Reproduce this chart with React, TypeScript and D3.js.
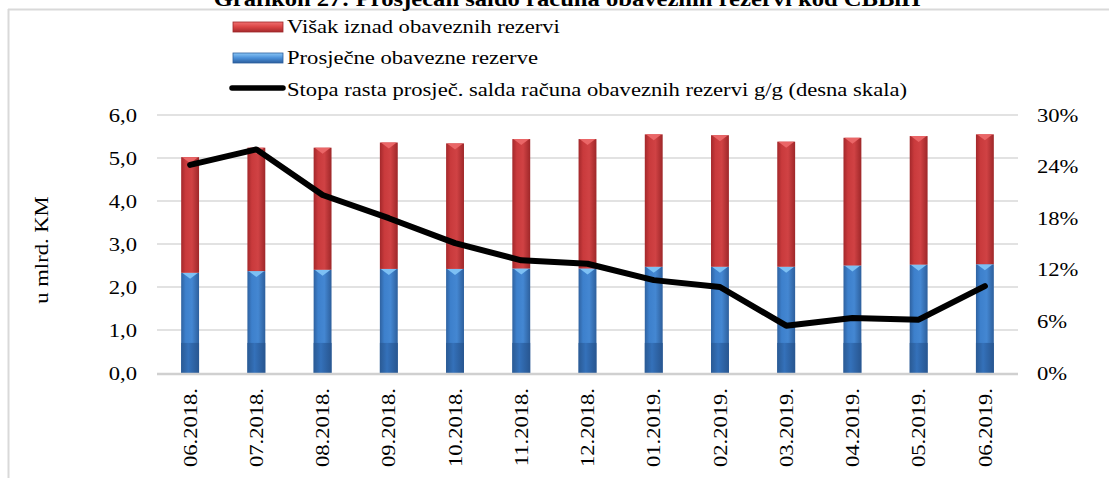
import React from 'react';
import * as d3 from 'd3';

const months = ['06.2018.', '07.2018.', '08.2018.', '09.2018.', '10.2018.', '11.2018.', '12.2018.',
  '01.2019.', '02.2019.', '03.2019.', '04.2019.', '05.2019.', '06.2019.'];
// Prosječne obavezne rezerve (mlrd. KM)
const required = [2.33, 2.37, 2.40, 2.42, 2.42, 2.43, 2.43, 2.47, 2.47, 2.47, 2.50, 2.52, 2.53];
// Višak iznad obaveznih rezervi (mlrd. KM)
const excess = [2.69, 2.87, 2.84, 2.94, 2.92, 3.01, 3.01, 3.08, 3.06, 2.91, 2.97, 2.99, 3.02];
// Stopa rasta g/g (%)
const growth = [24.2, 26.0, 20.7, 18.0, 15.1, 13.1, 12.7, 10.8, 10.0, 5.5, 6.4, 6.2, 10.1];
const leftTicks = [0, 1, 2, 3, 4, 5, 6];
const rightTicks = [0, 6, 12, 18, 24, 30];

const W = 1109;
const H = 478;
const FONT = '"Liberation Serif", "Times New Roman", serif';
const STRETCH = 1.19; // source text is wider than plain Times

type TProps = {
  x: number; y: number; rot?: number; sx?: number; size?: number;
  anchor?: 'start' | 'middle' | 'end'; bold?: boolean; dy?: string; children: React.ReactNode;
};

const T = ({ x, y, rot = 0, sx = STRETCH, size = 19, anchor = 'start', bold = false, dy, children }: TProps) => (
  <text transform={`translate(${x},${y}) rotate(${rot}) scale(${sx},1)`} fontSize={size}
    textAnchor={anchor} fontWeight={bold ? 'bold' : 'normal'} dy={dy} fill="#000">
    {children}
  </text>
);

export default function App() {
  const x = d3.scaleBand<string>().domain(months).range([157, 1018]).paddingInner(0.73).paddingOuter(0.365);
  const yL = d3.scaleLinear().domain([0, 6]).range([373, 115]);
  const yR = d3.scaleLinear().domain([0, 30]).range([373, 115]);
  const bw = x.bandwidth();
  const fmtL = (v: number) => v.toFixed(1).replace('.', ',');

  const line = d3.line<number>()
    .x((_, i) => (x(months[i]) as number) + bw / 2)
    .y(d => yR(d));

  const bevel = (x0: number, top: number) =>
    `${x0 + 1},${top} ${x0 + bw - 1},${top} ${x0 + bw / 2},${top + 6}`;

  return (
    <svg width={W} height={H} style={{ position: 'absolute', left: 0, top: 0, background: '#fff' }}
      fontFamily={FONT}>
      <defs>
        <linearGradient id="gRed" x1="0" x2="1" y1="0" y2="0">
          <stop offset="0" stopColor="#a3282b" />
          <stop offset="0.25" stopColor="#c93a3c" />
          <stop offset="0.6" stopColor="#d04244" />
          <stop offset="1" stopColor="#9e2729" />
        </linearGradient>
        <linearGradient id="gBlue" x1="0" x2="1" y1="0" y2="0">
          <stop offset="0" stopColor="#2f62a0" />
          <stop offset="0.25" stopColor="#3d80cc" />
          <stop offset="0.6" stopColor="#4487d2" />
          <stop offset="1" stopColor="#2d5f9c" />
        </linearGradient>
        <linearGradient id="gBlueDark" x1="0" x2="1" y1="0" y2="0">
          <stop offset="0" stopColor="#2a5a94" />
          <stop offset="0.4" stopColor="#3471ba" />
          <stop offset="1" stopColor="#285690" />
        </linearGradient>
        <linearGradient id="gRedL" x1="0" x2="0" y1="0" y2="1">
          <stop offset="0" stopColor="#f07070" />
          <stop offset="0.5" stopColor="#d94444" />
          <stop offset="1" stopColor="#a52a2c" />
        </linearGradient>
        <linearGradient id="gBlueL" x1="0" x2="0" y1="0" y2="1">
          <stop offset="0" stopColor="#8ac6f6" />
          <stop offset="0.5" stopColor="#4a8fd8" />
          <stop offset="1" stopColor="#2c5f9e" />
        </linearGradient>
      </defs>

      {/* frame */}
      <line x1={8} x2={W} y1={9.5} y2={9.5} stroke="#d9d9d9" strokeWidth={2} />
      <line x1={8.5} x2={8.5} y1={9} y2={H} stroke="#d9d9d9" strokeWidth={2} />

      <T x={567} y={6} size={20} sx={1.23} anchor="middle" bold>
        Grafikon 27: Prosječan saldo računa obaveznih rezervi kod CBBiH
      </T>

      {/* legend */}
      <rect x={233} y={22} width={50} height={10} fill="url(#gRedL)" stroke="#9e2729" strokeWidth={0.8} />
      <T x={287} y={33}>Višak iznad obaveznih rezervi</T>
      <rect x={233} y={53} width={50} height={10} fill="url(#gBlueL)" stroke="#2c5f9e" strokeWidth={0.8} />
      <T x={287} y={64}>Prosječne obavezne rezerve</T>
      <line x1={232} x2={283} y1={88} y2={88} stroke="#000" strokeWidth={5.5} strokeLinecap="round" />
      <T x={287} y={96}>Stopa rasta prosječ. salda računa obaveznih rezervi g/g (desna skala)</T>

      {/* grid */}
      {leftTicks.filter(t => t > 0).map(t => (
        <line key={t} x1={157} x2={1018} y1={yL(t)} y2={yL(t)} stroke="#d9d9d9" strokeWidth={1.5} />
      ))}

      {/* bars */}
      {months.map((m, i) => {
        const x0 = x(m) as number;
        const bTop = yL(required[i]);
        const rTop = yL(required[i] + excess[i]);
        return (
          <g key={m}>
            <rect x={x0} y={bTop} width={bw} height={yL(0) - bTop} fill="url(#gBlue)" />
            <rect x={x0} y={yL(0.7)} width={bw} height={yL(0) - yL(0.7)} fill="url(#gBlueDark)" />
            <polygon points={bevel(x0, bTop)} fill="#7dc0f4" />
            <rect x={x0} y={rTop} width={bw} height={bTop - rTop} fill="url(#gRed)" />
            <polygon points={bevel(x0, rTop)} fill="#ea6667" />
          </g>
        );
      })}

      <line x1={157} x2={1018} y1={yL(0) + 1} y2={yL(0) + 1} stroke="#d0d0d0" strokeWidth={2.5} />

      {/* growth line */}
      <path d={line(growth) as string} fill="none" stroke="#000" strokeWidth={6} strokeLinejoin="round" strokeLinecap="round" />

      {/* left axis */}
      {leftTicks.map(t => (
        <T key={t} x={137} y={yL(t)} dy="0.35em" anchor="end">{fmtL(t)}</T>
      ))}
      {/* right axis */}
      {rightTicks.map(t => (
        <T key={t} x={1037} y={yR(t)} dy="0.35em">{t}%</T>
      ))}

      <T x={48} y={250} rot={-90} anchor="middle">u mlrd. KM</T>

      {/* x axis labels */}
      {months.map(m => (
        <T key={m} x={(x(m) as number) + bw / 2} y={388} rot={-90} dy="0.35em" anchor="end">{m}</T>
      ))}
    </svg>
  );
}
